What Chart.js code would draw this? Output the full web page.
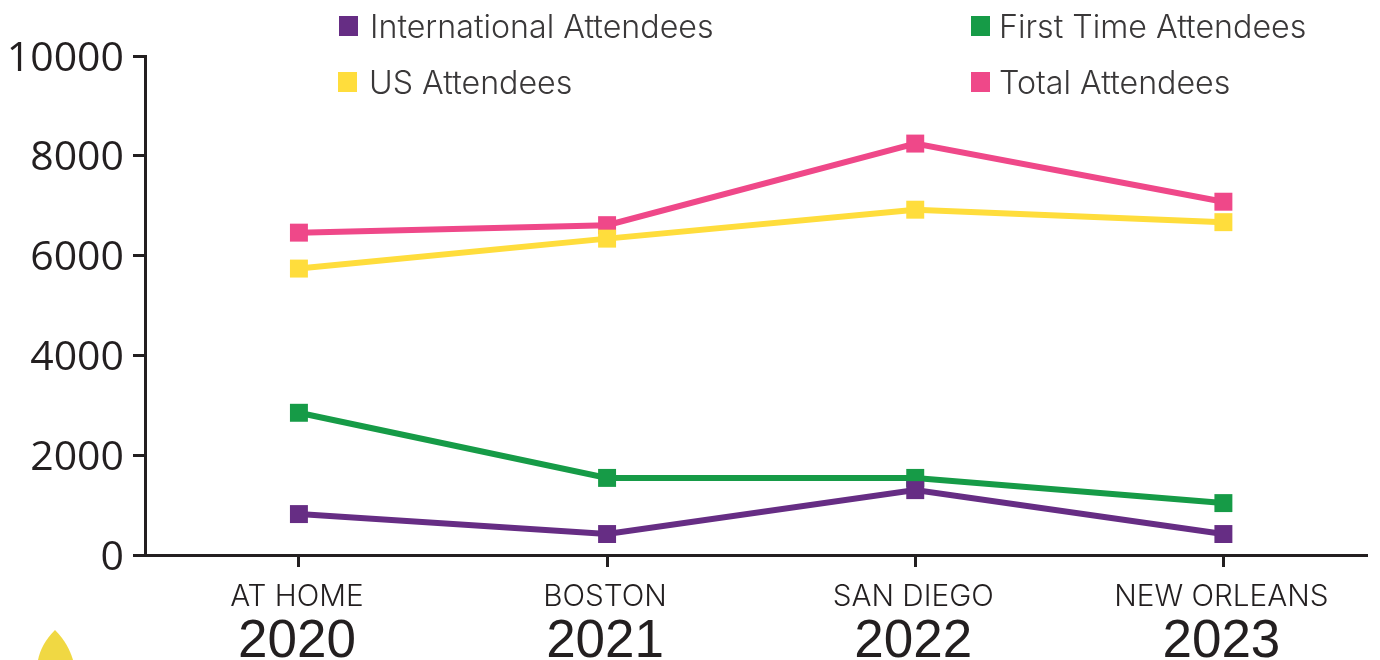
<!DOCTYPE html>
<html>
<head>
<meta charset="utf-8">
<title>Attendees</title>
<script src="https://cdn.jsdelivr.net/npm/chart.js@4/dist/chart.umd.min.js"></script>
<style>
    html, body { margin: 0; padding: 0; background: #fff; overflow: hidden; }
    #wrap { position: relative; width: 1380px; height: 660px; }
    #wrap canvas { position: absolute; left: 0; top: 0; }
    .legend-item {
        position: absolute;
        font: 300 32.2px Inter, "Liberation Sans", sans-serif;
        color: #3a3839;
        line-height: 36px;
        white-space: nowrap;
    }
    .legend-item i { position: absolute; top: 7px; width: 19px; height: 20px; }
    #drop { position: absolute; left: 30px; top: 625px; }
</style>
</head>
<body>
<div id="wrap">
    <canvas id="chart" width="1380" height="660"></canvas>
    <div id="legend"></div>
    <svg id="drop" width="50" height="35"><path d="M25 5 C15 15 10 25 8 35 L43 35 C40 25 35 15 25 5 Z" fill="#f0d843"/></svg>
</div>
<script>
// --- Data ---
const PLACES = ['AT HOME', 'BOSTON', 'SAN DIEGO', 'NEW ORLEANS'];
const YEARS = ['2020', '2021', '2022', '2023'];
const INTERNATIONAL = [820, 420, 1300, 420];
const US = [5740, 6340, 6920, 6670];
const FIRST_TIME = [2850, 1545, 1545, 1040];
const TOTAL = [6460, 6610, 8245, 7080];

const COLORS = {
    international: '#662d84',
    us: '#ffdd3c',
    firstTime: '#169b47',
    total: '#ef4889'
};
const AXIS_COLOR = '#231f20';

// where each legend entry sits, same order as the datasets
const LEGEND_SPOTS = [
    { left: 370, top: 9, swatch: -31 },
    { left: 369, top: 65, swatch: -31 },
    { left: 999, top: 9, swatch: -28 },
    { left: 999, top: 65, swatch: -28 }
];

function series(label, values, color) {
    return {
        label: label,
        data: values.map((v, i) => ({ x: i, y: v })),
        borderColor: color,
        backgroundColor: color,
        borderWidth: 6,
        tension: 0,
        pointStyle: 'rect',
        pointRadius: 12.7,
        pointBorderWidth: 0,
        clip: false
    };
}

// the x axes are linear so the line can stop short of the canvas edge
function categoryAxis(names, height, font, padding, showGrid) {
    return {
        type: 'linear',
        position: 'bottom',
        min: -0.4995,
        max: 3.467,
        afterBuildTicks: scale => { scale.ticks = names.map((n, i) => ({ value: i })); },
        afterFit: scale => { scale.height = height; },
        border: { display: showGrid, color: AXIS_COLOR, width: 3 },
        grid: {
            display: showGrid,
            drawOnChartArea: false,
            color: AXIS_COLOR,
            tickLength: 12,
            tickWidth: 3
        },
        ticks: {
            color: AXIS_COLOR,
            font: font,
            padding: padding,
            labelOffset: -2,
            maxRotation: 0,
            autoSkip: false,
            callback: (value, index) => names[index]
        }
    };
}

const chart = new Chart(document.getElementById('chart').getContext('2d'), {
    type: 'line',
    data: {
        datasets: [
            series('International Attendees', INTERNATIONAL, COLORS.international),
            series('US Attendees', US, COLORS.us),
            series('First Time Attendees', FIRST_TIME, COLORS.firstTime),
            series('Total Attendees', TOTAL, COLORS.total)
        ]
    },
    options: {
        responsive: false,
        animation: false,
        layout: { padding: { top: 56, right: 12, bottom: 0, left: 0 } },
        plugins: { legend: { display: false }, tooltip: { enabled: false } },
        scales: {
            x: categoryAxis(PLACES, 56, { family: 'Inter', size: 29.7, weight: 300 }, 12, true),
            // pulled up towards the place names above it
            xYear: categoryAxis(YEARS, 49, { family: '"Liberation Sans"', size: 53 }, -12, false),
            y: {
                min: 0,
                max: 10000,
                afterFit: scale => { scale.width = 145; },
                border: { color: AXIS_COLOR, width: 3 },
                grid: {
                    drawOnChartArea: false,
                    color: AXIS_COLOR,
                    tickLength: 12,
                    tickWidth: 3
                },
                ticks: {
                    stepSize: 2000,
                    color: AXIS_COLOR,
                    padding: 9,
                    labelOffset: 3,
                    font: { family: '"Open Sans"', size: 41 },
                    callback: value => String(value)
                }
            }
        }
    }
});

// --- Legend ---
const legendEl = document.getElementById('legend');
chart.data.datasets.forEach((ds, i) => {
    const spot = LEGEND_SPOTS[i];
    const item = document.createElement('div');
    item.className = 'legend-item';
    item.style.left = spot.left + 'px';
    item.style.top = spot.top + 'px';
    item.innerHTML = `<i style="left:${spot.swatch}px;background:${ds.backgroundColor}"></i>${ds.label}`;
    legendEl.appendChild(item);
});
</script>
</body>
</html>
